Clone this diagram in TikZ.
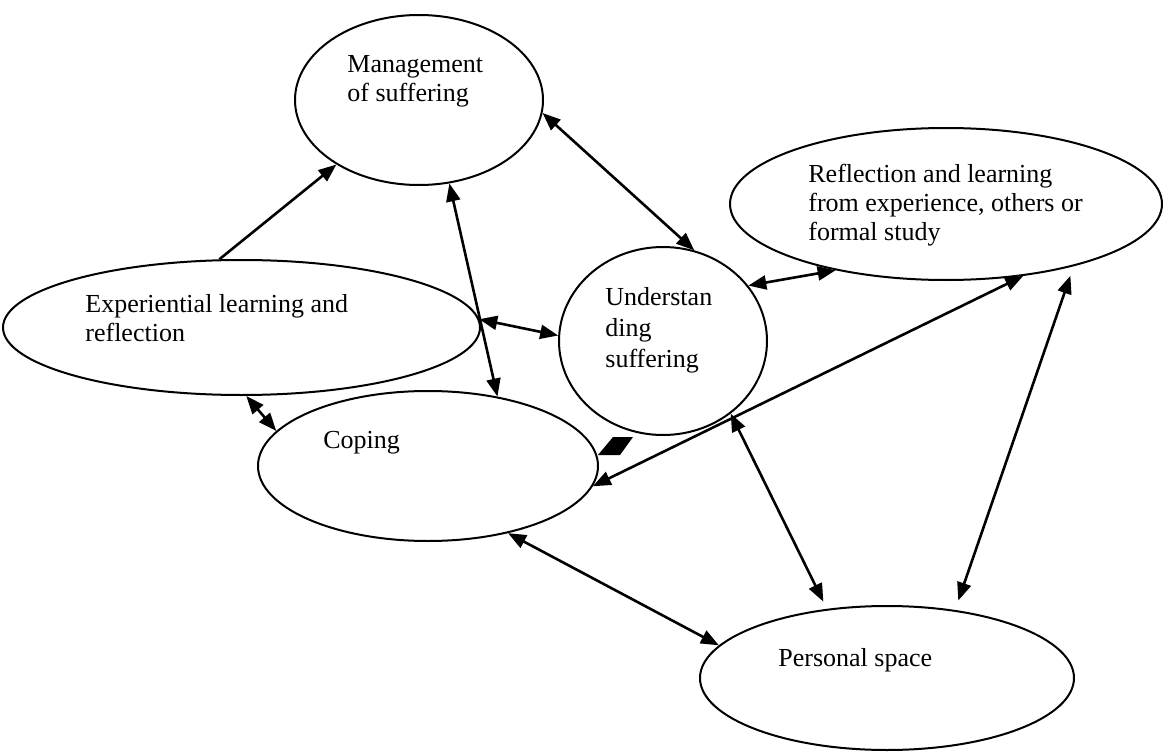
\documentclass[tikz,border=0pt]{standalone}
\usepackage{fontspec}
\setmainfont{Liberation Serif}
\usetikzlibrary{arrows.meta,shapes.geometric}
\begin{document}
\begin{tikzpicture}[x=0.5pt,y=-0.5pt,
  bubble/.style={draw, ellipse, line width=1pt, inner sep=0pt},
  caption/.style={anchor=base west, inner sep=0pt, font=\fontsize{13}{14.5}\selectfont},
  tip/.style={Triangle[length=9pt,width=7pt]},
  link/.style={line width=1.3pt, {Triangle[length=9pt,width=7pt]}-{Triangle[length=9pt,width=7pt]}},
  oneway/.style={line width=1.3pt, -{Triangle[length=9pt,width=7pt]}}]
\useasboundingbox (0,0) rectangle (1164,755);

% concept bubbles
\node[bubble, minimum width=124pt, minimum height=85pt] (M) at (419,100) {};
\node[bubble, minimum width=216pt, minimum height=76pt] (R) at (946,204) {};
\node[bubble, minimum width=238.5pt, minimum height=67.5pt] (E) at (241.5,327.5) {};
\node[bubble, minimum width=104pt, minimum height=94pt] (U) at (663,341) {};
\node[bubble, minimum width=170pt, minimum height=75pt] (C) at (428,466) {};
\node[bubble, minimum width=187pt, minimum height=72pt] (P) at (887,678) {};

% captions
\node[caption] (Mt) at (347,72) {\parbox[t]{5cm}{Management\\of suffering}};
\node[caption] (Rt) at (808,182) {\parbox[t]{7cm}{Reflection and learning\\from experience, others or\\formal study}};
\node[caption] (Et) at (85,312) {\parbox[t]{7cm}{Experiential learning and\\reflection}};
\node[caption, font=\fontsize{13}{15.5}\selectfont] (Ut) at (605,305) {\parbox[t]{3cm}{Understan\\ding\\suffering}};
\node[caption] (Ct) at (323,448) {Coping};
\node[caption] (Pt) at (778,666) {Personal space};

% connectors
\draw[oneway] (E.108) -- (M.218);
\draw[link] (M.290) -- (C.45);
\draw[link] (M.354) -- (U.71);
\draw[link] (E.2) -- (U.177);
\draw[link] (U.33) -- (R.211);
\draw[link] (E.274) -- (C.167);
\draw[link] (R.317) -- (C.353);
\draw[link, shorten >=4pt] (U.313) -- (P.131);
\draw[link, shorten <=5pt, shorten >=5pt] (R.334) -- (P.45);
\draw[link] (C.320) -- (P.169);

% loose arrowhead beside the coping bubble
\fill (598,455) -- (613,437) -- (633,437) -- (620,455) -- cycle;
\end{tikzpicture}
\end{document}
